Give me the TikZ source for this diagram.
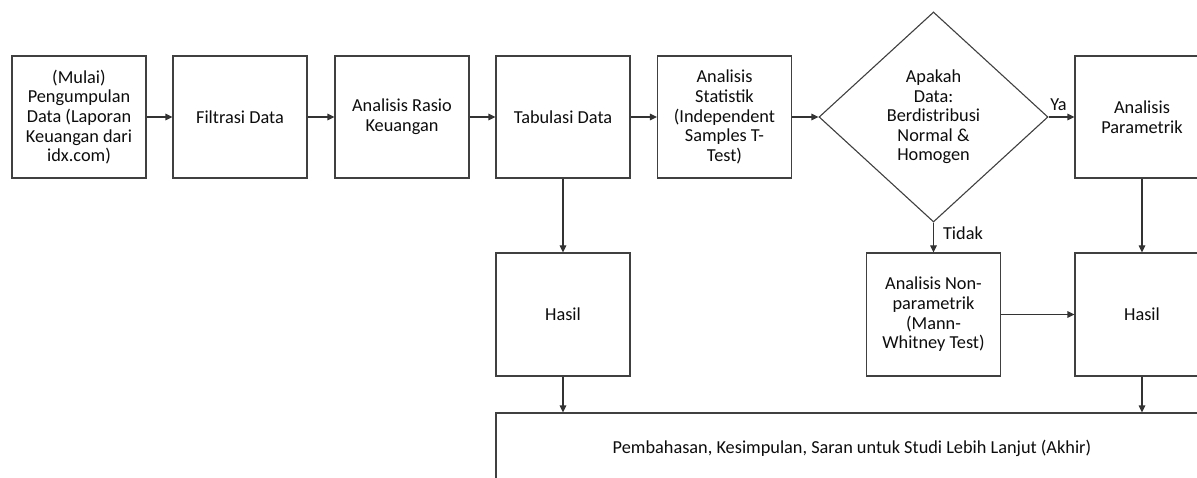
\documentclass[tikz,border=0pt]{standalone}
\usepackage{fontspec}
\setmainfont{Carlito}
\usetikzlibrary{shapes.geometric,arrows.meta}
\begin{document}
\begin{tikzpicture}[x=1pt,y=-1pt,
  every node/.style={font=\fontsize{18.3}{19.6}\selectfont, text=black!95},
  box/.style={draw=black!75, line width=1.1pt, rectangle, inner sep=0pt, align=center,
              minimum width=134pt, minimum height=122pt},
  dia/.style={draw=black!75, line width=1.1pt, diamond, inner sep=0pt, align=center,
              minimum width=229pt, minimum height=210pt},
  conn/.style={draw=black!80, line width=1.1pt, -{Triangle[length=7pt,width=6.5pt]}},
  lbl/.style={font=\fontsize{18.3}{19.6}\selectfont, inner sep=4pt}
]
\clip (0,0) rectangle (1197,478);
\fill[white] (0,0) rectangle (1197,478);

\node[box] (n1) at (79,117) {(Mulai)\\Pengumpulan\\Data (Laporan\\Keuangan dari\\idx.com)};
\node[box] (n2) at (240,117) {Filtrasi Data};
\node[box] (n3) at (402,117) {Analisis Rasio\\Keuangan};
\node[box] (n4) at (563,117) {Tabulasi Data};
\node[box] (n5) at (724.5,117) {Analisis\\Statistik\\(Independent\\Samples T-\\Test)};
\node[dia] (d) at (933.5,117) {Apakah\\Data:\\Berdistribusi\\Normal \&\\Homogen};
\node[box] (n7) at (1142,117) {Analisis\\Parametrik};

\node[box, minimum height=123pt] (h1) at (563,314.5) {Hasil};
\node[box, minimum height=123pt] (np) at (933.5,314.5) {Analisis Non-\\parametrik\\(Mann-\\Whitney Test)};
\node[box, minimum height=123pt] (h2) at (1142,314.5) {Hasil};

\node[box, minimum width=712pt, minimum height=70pt] (end) at (852,448)
  {Pembahasan, Kesimpulan, Saran untuk Studi Lebih Lanjut (Akhir)};

\draw[conn] (n1.east) -- (n2.west);
\draw[conn] (n2.east) -- (n3.west);
\draw[conn] (n3.east) -- (n4.west);
\draw[conn] (n4.east) -- (n5.west);
\draw[conn] (n5.east) -- (d.west);
\draw[conn] (d.east) -- node[lbl, above, yshift=2pt, xshift=-3pt] (ya) {Ya} (n7.west);
\draw[conn] (d.south) -- node[lbl, right, xshift=5pt, yshift=4pt] (tidak) {Tidak} (np.north);
\draw[conn] (n4.south) -- (h1.north);
\draw[conn] (n7.south) -- (h2.north);
\draw[conn] (np.east) -- (h2.west);
\draw[conn] (h1.south) -- (h1.south |- end.north);
\draw[conn] (h2.south) -- (h2.south |- end.north);
\end{tikzpicture}
\end{document}
